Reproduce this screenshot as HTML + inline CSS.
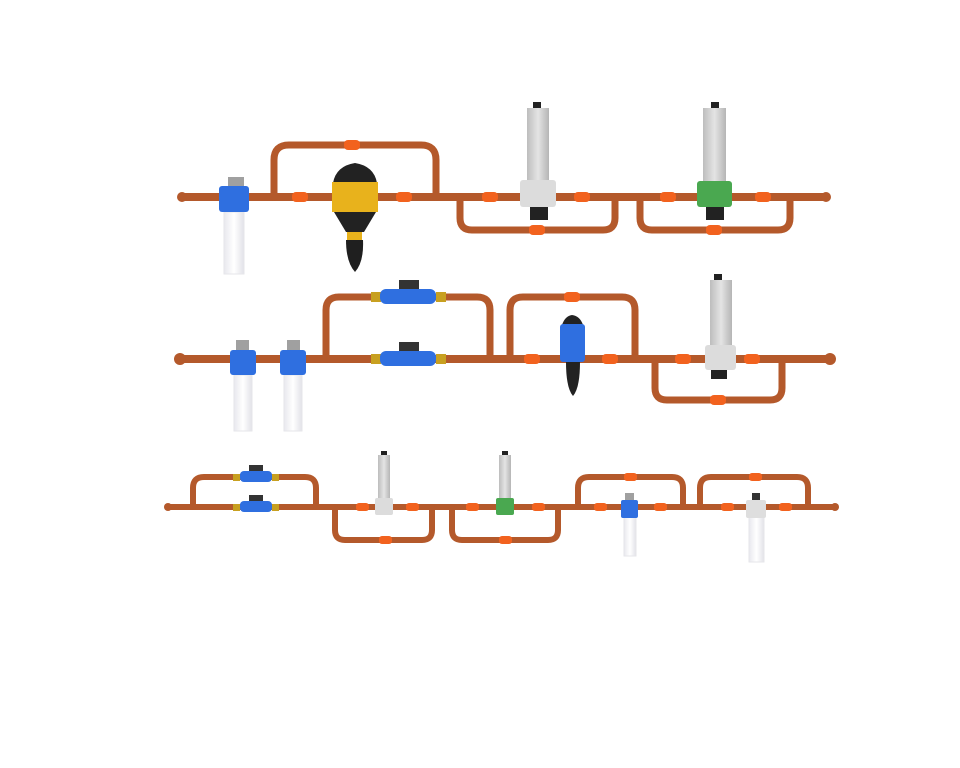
<!DOCTYPE html>
<html><head><meta charset="utf-8"><style>html,body{margin:0;padding:0;background:#fff}svg{display:block}</style></head>
<body>
<svg width="960" height="768" viewBox="0 0 960 768" xmlns="http://www.w3.org/2000/svg">
<defs>
<linearGradient id="cyl" x1="0" x2="1"><stop offset="0" stop-color="#bdbdbd"/><stop offset=".5" stop-color="#e4e4e4"/><stop offset="1" stop-color="#b5b5b5"/></linearGradient>
<linearGradient id="wh" x1="0" x2="1"><stop offset="0" stop-color="#e8e8ee"/><stop offset=".5" stop-color="#ffffff"/><stop offset="1" stop-color="#e2e2e8"/></linearGradient>
</defs>
<g fill="none" stroke="#b4592b" stroke-linejoin="round" stroke-linecap="round">
<!-- Row 1 -->
<path d="M182 197H826" stroke-width="8"/>
<path d="M274 197V160Q274 145 289 145H421Q436 145 436 160V197" stroke-width="7"/>
<path d="M460 197V218Q460 230 472 230H603Q615 230 615 218V197" stroke-width="7"/>
<path d="M640 197V218Q640 230 652 230H778Q790 230 790 218V197" stroke-width="7"/>
<!-- Row 2 -->
<path d="M180 359H830" stroke-width="8"/>
<path d="M326 359V310Q326 297 339 297H477Q490 297 490 310V359" stroke-width="7"/>
<path d="M510 359V310Q510 297 523 297H622Q635 297 635 310V359" stroke-width="7"/>
<path d="M655 359V388Q655 400 667 400H770Q782 400 782 388V359" stroke-width="7"/>
<!-- Row 3 -->
<path d="M168 507H835" stroke-width="6"/>
<path d="M193 507V488Q193 477 204 477H305Q316 477 316 488V507" stroke-width="6"/>
<path d="M335 507V530Q335 540 345 540H422Q432 540 432 530V507" stroke-width="6"/>
<path d="M452 507V530Q452 540 462 540H548Q558 540 558 530V507" stroke-width="6"/>
<path d="M578 507V488Q578 477 589 477H672Q683 477 683 488V507" stroke-width="6"/>
<path d="M700 507V488Q700 477 711 477H797Q808 477 808 488V507" stroke-width="6"/>
</g>
<!-- end caps -->
<g fill="#b4592b"><circle cx="182" cy="197" r="5"/><circle cx="826" cy="197" r="5"/><circle cx="180" cy="359" r="6"/><circle cx="830" cy="359" r="6"/><circle cx="168" cy="507" r="4"/><circle cx="835" cy="507" r="4"/></g>
<!-- valves -->
<g fill="#f2621e">
<rect x="344" y="140" width="16" height="10" rx="4"/><rect x="292" y="192" width="16" height="10" rx="4"/><rect x="396" y="192" width="16" height="10" rx="4"/><rect x="482" y="192" width="16" height="10" rx="4"/><rect x="574" y="192" width="16" height="10" rx="4"/><rect x="660" y="192" width="16" height="10" rx="4"/><rect x="755" y="192" width="16" height="10" rx="4"/><rect x="529" y="225" width="16" height="10" rx="4"/><rect x="706" y="225" width="16" height="10" rx="4"/>
<rect x="564" y="292" width="16" height="10" rx="4"/><rect x="524" y="354" width="16" height="10" rx="4"/><rect x="602" y="354" width="16" height="10" rx="4"/><rect x="675" y="354" width="16" height="10" rx="4"/><rect x="744" y="354" width="16" height="10" rx="4"/><rect x="710" y="395" width="16" height="10" rx="4"/>
<rect x="356" y="503" width="13" height="8" rx="3"/><rect x="406" y="503" width="13" height="8" rx="3"/><rect x="379" y="536" width="13" height="8" rx="3"/><rect x="466" y="503" width="13" height="8" rx="3"/><rect x="532" y="503" width="13" height="8" rx="3"/><rect x="499" y="536" width="13" height="8" rx="3"/><rect x="594" y="503" width="13" height="8" rx="3"/><rect x="654" y="503" width="13" height="8" rx="3"/><rect x="624" y="473" width="13" height="8" rx="3"/><rect x="721" y="503" width="13" height="8" rx="3"/><rect x="779" y="503" width="13" height="8" rx="3"/><rect x="749" y="473" width="13" height="8" rx="3"/>
</g>
<!-- Row1 blue filter -->
<rect x="228" y="177" width="16" height="11" fill="#a0a0a0"/>
<rect x="224" y="212" width="20" height="62" fill="url(#wh)" stroke="#e6e6ea"/>
<rect x="219" y="186" width="30" height="26" rx="3" fill="#2f6fe0"/>
<!-- Dosatron -->
<path d="M333 183Q336 166 355 163Q374 166 377 183Z" fill="#222"/>
<rect x="332" y="182" width="46" height="30" fill="#e8b21c"/>
<path d="M334 212H376L364 232H346Z" fill="#222"/>
<rect x="347" y="232" width="15" height="8" fill="#e8b21c"/>
<path d="M346 240H363Q364 262 355 272Q346 262 346 240Z" fill="#1f1f1f"/>
<!-- grey filter row1 -->
<rect x="533" y="102" width="8" height="6" fill="#222"/>
<rect x="527" y="108" width="22" height="75" fill="url(#cyl)"/>
<rect x="530" y="207" width="18" height="13" fill="#222"/>
<rect x="520" y="180" width="36" height="27" rx="3" fill="#dcdcdc"/>
<!-- green filter -->
<rect x="711" y="102" width="8" height="6" fill="#222"/>
<rect x="703" y="108" width="23" height="75" fill="url(#cyl)"/>
<rect x="706" y="207" width="18" height="13" fill="#222"/>
<rect x="697" y="181" width="35" height="26" rx="3" fill="#4aa850"/>
<!-- Row2 filters -->
<rect x="236" y="340" width="13" height="11" fill="#a0a0a0"/>
<rect x="234" y="375" width="18" height="56" fill="url(#wh)" stroke="#e6e6ea"/>
<rect x="230" y="350" width="26" height="25" rx="3" fill="#2f6fe0"/>
<rect x="287" y="340" width="13" height="11" fill="#a0a0a0"/>
<rect x="284" y="375" width="18" height="56" fill="url(#wh)" stroke="#e6e6ea"/>
<rect x="280" y="350" width="26" height="25" rx="3" fill="#2f6fe0"/>
<!-- meters -->
<rect x="371" y="292" width="10" height="10" fill="#c8a020"/><rect x="436" y="292" width="10" height="10" fill="#c8a020"/>
<rect x="399" y="280" width="20" height="10" fill="#333"/>
<rect x="380" y="289" width="56" height="15" rx="6" fill="#2f6fe0"/>
<rect x="371" y="354" width="10" height="10" fill="#c8a020"/><rect x="436" y="354" width="10" height="10" fill="#c8a020"/>
<rect x="399" y="342" width="20" height="10" fill="#333"/>
<rect x="380" y="351" width="56" height="15" rx="6" fill="#2f6fe0"/>
<!-- blue dosatron -->
<path d="M562 325Q565 316 572 315Q580 316 583 325Z" fill="#222"/>
<rect x="560" y="324" width="25" height="38" rx="3" fill="#2f6fe0"/>
<path d="M566 362H580Q580 388 573 396Q566 388 566 362Z" fill="#222"/>
<!-- row2 grey filter -->
<rect x="714" y="274" width="8" height="6" fill="#222"/>
<rect x="710" y="280" width="22" height="68" fill="url(#cyl)"/>
<rect x="711" y="369" width="16" height="10" fill="#222"/>
<rect x="705" y="345" width="31" height="25" rx="3" fill="#dcdcdc"/>
<!-- Row3 meters -->
<rect x="233" y="474" width="7" height="7" fill="#c8a020"/><rect x="272" y="474" width="7" height="7" fill="#c8a020"/>
<rect x="249" y="465" width="14" height="7" fill="#333"/>
<rect x="240" y="471" width="32" height="11" rx="4" fill="#2f6fe0"/>
<rect x="233" y="504" width="7" height="7" fill="#c8a020"/><rect x="272" y="504" width="7" height="7" fill="#c8a020"/>
<rect x="249" y="495" width="14" height="7" fill="#333"/>
<rect x="240" y="501" width="32" height="11" rx="4" fill="#2f6fe0"/>
<!-- Row3 filters -->
<rect x="381" y="451" width="6" height="5" fill="#222"/>
<rect x="378" y="455" width="12" height="45" fill="url(#cyl)"/>
<rect x="375" y="498" width="18" height="17" rx="2" fill="#dcdcdc"/>
<rect x="502" y="451" width="6" height="5" fill="#222"/>
<rect x="499" y="455" width="12" height="45" fill="url(#cyl)"/>
<rect x="496" y="498" width="18" height="17" rx="2" fill="#4aa850"/>
<rect x="625" y="493" width="9" height="8" fill="#a0a0a0"/>
<rect x="624" y="517" width="12" height="39" fill="url(#wh)" stroke="#e6e6ea"/>
<rect x="621" y="500" width="17" height="18" rx="2" fill="#2f6fe0"/>
<rect x="752" y="493" width="8" height="8" fill="#333"/>
<rect x="749" y="517" width="15" height="45" fill="url(#wh)" stroke="#e6e6ea"/>
<rect x="746" y="500" width="20" height="18" rx="2" fill="#dedede"/>
</svg>
</body></html>
